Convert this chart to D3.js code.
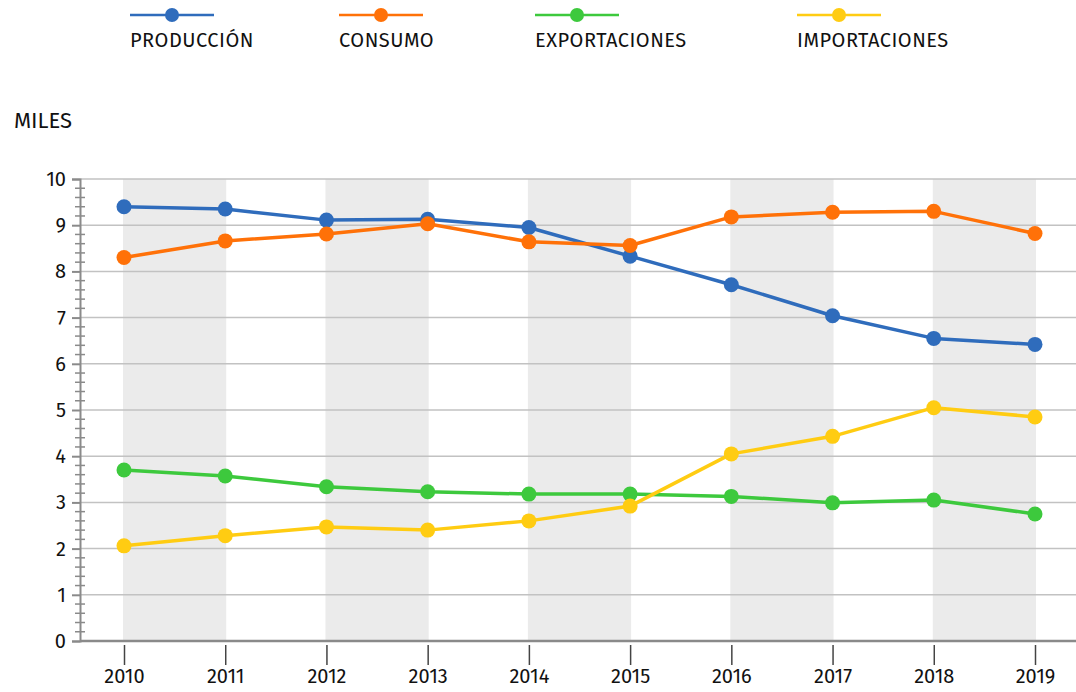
<!DOCTYPE html>
<html>
<head>
<meta charset="utf-8">
<script src="https://cdn.jsdelivr.net/npm/d3@7"></script>
<style>
  body { margin: 0; background: #fff; }
  text { font-family: "Fira Sans", "Noto Sans", sans-serif; fill: #111; }
</style>
</head>
<body>
<div id="chart"></div>
<script>
// years on the x axis
const years = [2010, 2011, 2012, 2013, 2014, 2015, 2016, 2017, 2018, 2019];
// series values (miles)
const produccion    = [9.40, 9.35, 9.11, 9.13, 8.95, 8.33, 7.71, 7.04, 6.55, 6.42];
const consumo       = [8.30, 8.66, 8.81, 9.03, 8.64, 8.56, 9.18, 9.28, 9.30, 8.82];
const exportaciones = [3.70, 3.57, 3.34, 3.23, 3.18, 3.18, 3.13, 2.99, 3.05, 2.75];
const importaciones = [2.06, 2.28, 2.47, 2.40, 2.60, 2.92, 4.05, 4.43, 5.05, 4.85];
const seriesNames   = ["PRODUCCIÓN", "CONSUMO", "EXPORTACIONES", "IMPORTACIONES"];
const seriesColors  = ["#2f6cbc", "#ff7108", "#3dc93d", "#ffcc12"];
const yTicks = [0, 1, 2, 3, 4, 5, 6, 7, 8, 9, 10];
// shaded columns start at these years
const bandYears = [2010, 2012, 2014, 2016, 2018];

const allSeries = [produccion, consumo, exportaciones, importaciones];

var width = 1076, height = 692;
var margin = {top: 179, right: 0, bottom: 51, left: 80};

let svg = d3.select("#chart")
    .append("svg")
    .attr("width", width)
    .attr("height", height);

// scales
var xScale = d3.scaleLinear()
    .domain([2010, 2019])
    .range([124, 1035]);
var yScale = d3.scaleLinear()
    .domain([0, 10])
    .range([height - margin.bottom, margin.top]);

// gray column bands
svg.append("g")
    .selectAll("rect")
    .data(bandYears)
    .join("rect")
    .attr("x", d => xScale(d) - 1)
    .attr("width", d => xScale(d + 1) - xScale(d) + 2)
    .attr("y", yScale(10))
    .attr("height", yScale(0) - yScale(10))
    .attr("fill", "#ebebeb");

// horizontal gridlines
svg.append("g")
    .selectAll("line")
    .data(yTicks.filter(d => d > 0))
    .join("line")
    .attr("x1", margin.left)
    .attr("x2", width)
    .attr("y1", d => yScale(d))
    .attr("y2", d => yScale(d))
    .attr("stroke", "#c2c2c2")
    .attr("stroke-width", 1.5);

// minor y ticks (every 0.2)
let minor = d3.range(0, 10.01, 0.2).filter(v => Math.abs(v - Math.round(v)) > 0.01);
svg.append("g")
    .selectAll("line")
    .data(minor)
    .join("line")
    .attr("x1", margin.left - 5)
    .attr("x2", margin.left + 5)
    .attr("y1", d => yScale(d))
    .attr("y2", d => yScale(d))
    .attr("stroke", "#8a8a8a")
    .attr("stroke-width", 1.5);

// y axis
let yAxis = svg.append("g")
    .attr("transform", "translate(" + margin.left + ",0)")
    .call(d3.axisLeft(yScale).tickValues(yTicks).tickSize(8).tickPadding(6).tickFormat(d3.format("d")));
yAxis.select(".domain").attr("stroke", "#8a8a8a").attr("stroke-width", 2);
yAxis.selectAll(".tick line").attr("stroke", "#8a8a8a").attr("stroke-width", 2);
yAxis.selectAll(".tick text")
    .attr("font-size", 20)
    .attr("font-family", "'Fira Sans', 'Noto Sans', sans-serif")
    .attr("fill", "#111");

// x axis line
svg.append("line")
    .attr("x1", margin.left)
    .attr("x2", width)
    .attr("y1", yScale(0))
    .attr("y2", yScale(0))
    .attr("stroke", "#8a8a8a")
    .attr("stroke-width", 2.5);

// x axis ticks and labels
let xAxis = svg.append("g")
    .attr("transform", "translate(0," + (yScale(0) + 4) + ")")
    .call(d3.axisBottom(xScale).tickValues(years).tickSize(20).tickPadding(4).tickFormat(d3.format("d")));
xAxis.select(".domain").remove();
xAxis.selectAll(".tick line").attr("stroke", "#444").attr("stroke-width", 1.5);
xAxis.selectAll(".tick text")
    .attr("font-size", 20)
    .attr("font-family", "'Fira Sans', 'Noto Sans', sans-serif")
    .attr("fill", "#111");

// lines and markers
let line = d3.line()
    .x((d, i) => xScale(years[i]))
    .y(d => yScale(d));

allSeries.forEach(function(values, s) {
  svg.append("path")
      .datum(values)
      .attr("d", line)
      .attr("fill", "none")
      .attr("stroke", seriesColors[s])
      .attr("stroke-width", 3.5)
      .attr("stroke-linejoin", "round");
  svg.append("g")
      .selectAll("circle")
      .data(values)
      .join("circle")
      .attr("cx", (d, i) => xScale(years[i]))
      .attr("cy", d => yScale(d))
      .attr("r", 7.5)
      .attr("fill", seriesColors[s]);
});

// legend
let legendX = [130, 339, 535, 797];
let legend = svg.append("g");
seriesNames.forEach(function(name, i) {
  let g = legend.append("g").attr("transform", "translate(" + legendX[i] + ",0)");
  g.append("line")
      .attr("x1", 0).attr("x2", 84)
      .attr("y1", 15).attr("y2", 15)
      .attr("stroke", seriesColors[i])
      .attr("stroke-width", 2.5);
  g.append("circle")
      .attr("cx", 42).attr("cy", 15).attr("r", 7)
      .attr("fill", seriesColors[i]);
  g.append("text")
      .attr("x", 0).attr("y", 47)
      .attr("font-size", 20)
      .attr("letter-spacing", 0.5)
      .text(name);
});

// unit label
svg.append("text")
    .attr("x", 14)
    .attr("y", 128)
    .attr("font-size", 22)
    .text("MILES");
</script>
</body>
</html>
